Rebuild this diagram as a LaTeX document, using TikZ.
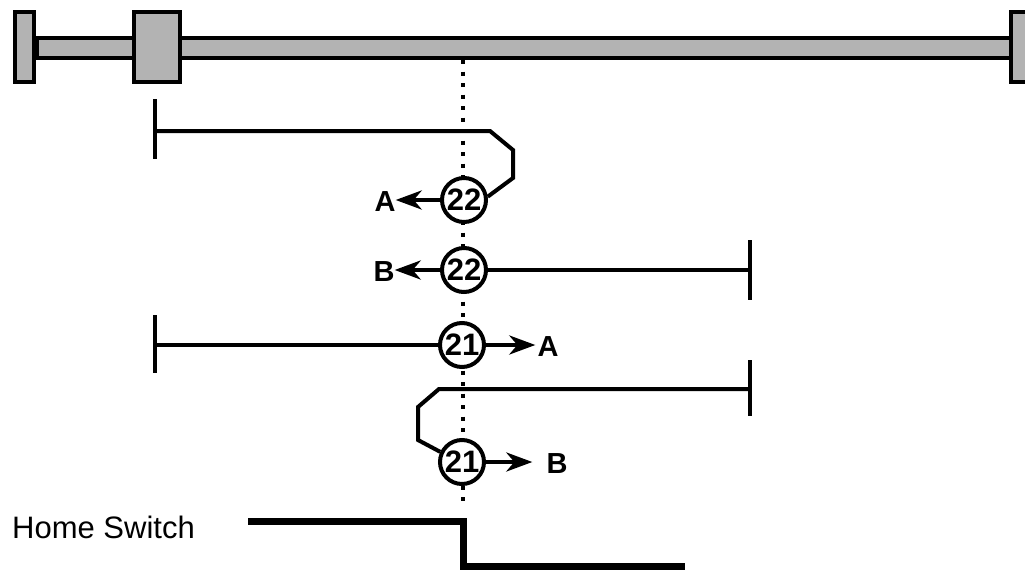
\documentclass[tikz,border=0pt]{standalone}
\usepackage{fontspec}
\setmainfont{Liberation Sans}
\usetikzlibrary{arrows.meta}
\definecolor{barfill}{HTML}{B3B3B3}
\begin{document}
\begin{tikzpicture}[x=1pt,y=-1pt,
  bar/.style={draw=black,fill=barfill,line width=4.5pt},
  trace/.style={draw=black,line width=4pt,line join=miter},
  tickmark/.style={draw=black,line width=4pt},
  dotline/.style={draw=black,line width=4pt,dash pattern=on 4pt off 7.5pt},
  cnum/.style={circle,draw=black,fill=white,line width=4pt,minimum size=44pt,inner sep=0pt,font=\fontsize{31}{31}\selectfont\bfseries},
  lbl/.style={font=\fontsize{29}{29}\selectfont\bfseries,inner sep=0pt},
  arr/.style={draw=black,line width=4pt,-{Stealth[length=26pt,width=19pt,inset=8pt]}},
  switchline/.style={draw=black,line width=7pt},
]
\clip (0,0) rectangle (1025,570);
\fill[white] (0,0) rectangle (1025,570);
% rail
\draw[bar] (37,38) rectangle (1012,58);
\draw[bar] (15,12) rectangle (34,82);
\draw[bar] (134,12) rectangle (180,82);
\draw[bar] (1011,12) rectangle (1040,82);
% dotted reference line
\coordinate (dtop) at (463,60);
\coordinate (dbot) at (463,505);
\draw[dotline] (dtop) -- (dbot);
% circles
\node[cnum] (c1) at (464,200) {22};
\node[cnum] (c2) at (464,270) {22};
\node[cnum] (c3) at (462,345) {21};
\node[cnum] (c4) at (462,462) {21};
% labels
\node[lbl] (a1) at (385,202) {A};
\node[lbl] (b2) at (384,272) {B};
\node[lbl] (a3) at (548,347) {A};
\node[lbl] (b4) at (557,464) {B};
% tick coordinates
\coordinate (t1) at (155,131);
\coordinate (t2) at (750,270);
\coordinate (t3) at (155,345);
\coordinate (t4) at (750,389);
\draw[tickmark] (155,99) -- (155,159);
\draw[tickmark] (750,240) -- (750,300);
\draw[tickmark] (155,315) -- (155,373);
\draw[tickmark] (750,360) -- (750,416);
% traces
\draw[trace] (t1) -- (490,131) -- (513,150) -- (513,178) -- (c1.8);
\draw[trace] (c2.east) -- (t2);
\draw[trace] (t3) -- (c3.west);
\draw[trace] (t4) -- (439,389) -- (418,407) -- (418,440) -- (c4.155);
% arrows
\draw[arr] (c1.west) -- (a1.east |- c1.west);
\draw[arr] (c2.west) -- (b2.east |- c2.west);
\draw[arr] (c3.east) -- ([xshift=-2pt]a3.west |- c3.east);
\draw[arr] (c4.east) -- ([xshift=-14pt]b4.west |- c4.east);
% home switch
\node[font=\fontsize{31}{31}\selectfont,anchor=base west,inner sep=0pt] (hs) at (12,538) {Home Switch};
\coordinate (s0) at (248,521.5);
\coordinate (s1) at (463,521.5);
\coordinate (s2) at (463,566);
\coordinate (s3) at (685,566);
\draw[switchline] (s0) -- (s1) -- (s2) -- (s3);
\end{tikzpicture}
\end{document}
